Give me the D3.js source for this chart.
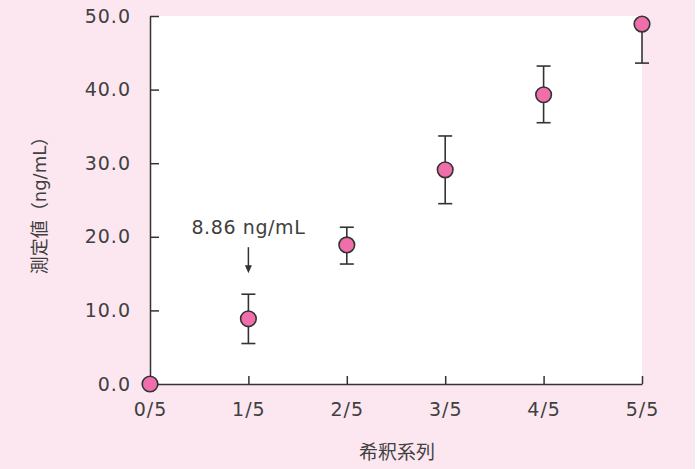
<!DOCTYPE html>
<html><head><meta charset="utf-8">
<script src="https://cdn.jsdelivr.net/npm/d3@7"></script>
<style>
html,body{margin:0;padding:0;background:#fff;}
text{font-family:"DejaVu Sans","Noto Sans CJK JP",sans-serif;fill:#404040;}
</style></head>
<body>
<svg id="chart" width="697" height="469"></svg>
<script>
const categories = ["0/5","1/5","2/5","3/5","4/5","5/5"];
const values = [0, 8.86, 18.9, 29.1, 39.3, 48.9];
const errHigh = [null, 12.2, 21.3, 33.7, 43.2, null];
const errLow = [null, 5.5, 16.3, 24.5, 35.5, 43.6];
const yTicks = [0, 10, 20, 30, 40, 50];
const annotationText = "8.86 ng/mL";
const annotationIndex = 1;
const xTitle = "希釈系列";
const yTitle = "測定値（ng/mL）";

const svg = d3.select("#chart");
const W = 697, H = 469;
const m = {left:150, right:55, top:16, bottom:85};
const x = d3.scalePoint().domain(categories).range([m.left, W - m.right]);
const y = d3.scaleLinear().domain([0, 50]).range([H - m.bottom, m.top]);

svg.append("rect").attr("x",0).attr("y",0).attr("width",695).attr("height",H).attr("fill","#fce7f0");
svg.append("rect").attr("x",x.range()[0]).attr("y",y(50)).attr("width",x.range()[1]-x.range()[0]).attr("height",y(0)-y(50)).attr("fill","#fff");

const axisColor = "#333";
const yAxis = svg.append("g").attr("transform",`translate(${m.left},0)`)
  .call(d3.axisLeft(y).tickValues(yTicks).tickFormat(d3.format(".1f")).tickSizeInner(-9).tickSizeOuter(0).tickPadding(19));
const xAxis = svg.append("g").attr("transform",`translate(0,${y(0)})`)
  .call(d3.axisBottom(x).tickSizeInner(-8).tickSizeOuter(0).tickPadding(19));
[yAxis, xAxis].forEach(g => {
  g.selectAll("path.domain").attr("stroke",axisColor).attr("stroke-width",1.5);
  g.selectAll(".tick line").attr("stroke",axisColor).attr("stroke-width",1.5);
  g.selectAll(".tick text").attr("font-size",19).attr("letter-spacing","1px")
    .attr("fill","#404040").style("font-family",'"DejaVu Sans",sans-serif');
});

// error bars
const eb = svg.append("g").attr("stroke","#333").attr("stroke-width",1.6);
categories.forEach((c,i) => {
  const cx = x(c);
  const top = errHigh[i] != null ? errHigh[i] : values[i];
  const bot = errLow[i] != null ? errLow[i] : values[i];
  if (errHigh[i] == null && errLow[i] == null) return;
  eb.append("line").attr("x1",cx).attr("x2",cx).attr("y1",y(top)).attr("y2",y(bot));
  if (errHigh[i] != null) eb.append("line").attr("x1",cx-7).attr("x2",cx+7).attr("y1",y(errHigh[i])).attr("y2",y(errHigh[i]));
  if (errLow[i] != null) eb.append("line").attr("x1",cx-7).attr("x2",cx+7).attr("y1",y(errLow[i])).attr("y2",y(errLow[i]));
});

// points
svg.append("g").selectAll("circle").data(values).join("circle")
  .attr("cx",(d,i)=>x(categories[i])).attr("cy",d=>y(d)).attr("r",7.8)
  .attr("fill","#f06eaa").attr("stroke","#333").attr("stroke-width",1.6);

// annotation
const ax = x(categories[annotationIndex]);
const aTop = y(errHigh[annotationIndex]) - 47;
const aBot = y(errHigh[annotationIndex]) - 21;
svg.append("line").attr("x1",ax).attr("x2",ax).attr("y1",aTop).attr("y2",aBot-6)
  .attr("stroke","#333").attr("stroke-width",1.5);
svg.append("path").attr("d",`M${ax-3.5},${aBot-8}L${ax+3.5},${aBot-8}L${ax},${aBot}Z`).attr("fill","#333");
svg.append("text").attr("x",ax).attr("y",aTop-13).attr("text-anchor","middle")
  .attr("font-size",19).attr("letter-spacing","0.6px").text(annotationText);

// axis titles
svg.append("text").attr("x",(x.range()[0]+x.range()[1])/2+1).attr("y",459)
  .attr("text-anchor","middle").attr("font-size",19).text(xTitle);
svg.append("text").attr("transform",`translate(46,201) rotate(-90)`)
  .attr("text-anchor","middle").attr("font-size",18).text(yTitle);
</script>
</body></html>
